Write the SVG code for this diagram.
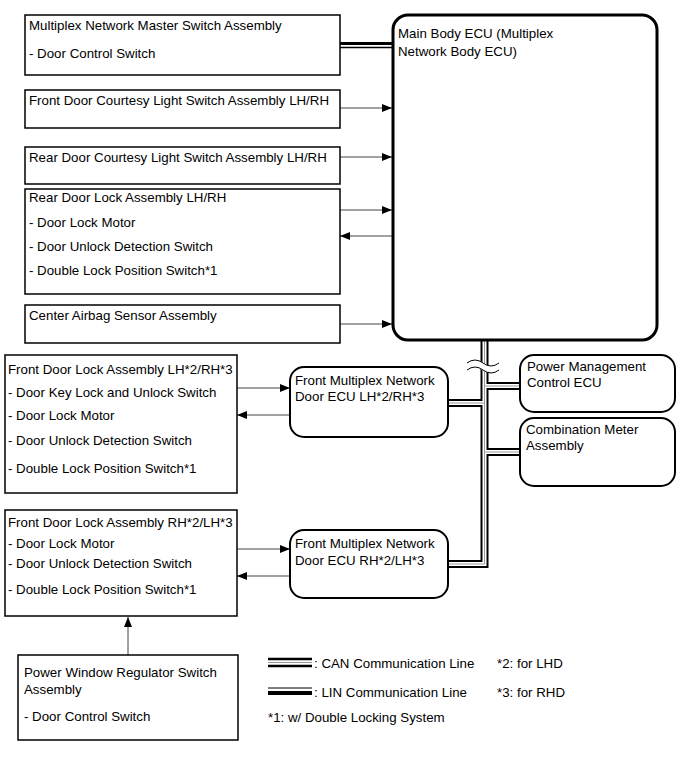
<svg xmlns="http://www.w3.org/2000/svg" xmlns:xlink="http://www.w3.org/1999/xlink" width="691" height="757" viewBox="0 0 691 757">
<style>
text{font-family:"Liberation Sans",Arial,sans-serif;font-size:13.3px;fill:#000}
.box{fill:#fff;stroke:#000;stroke-width:1.5}
.rbox{fill:#fff;stroke:#000;stroke-width:2}
.ecu{fill:#fff;stroke:#000;stroke-width:3}
.arr{fill:none;stroke:#444;stroke-width:1;marker-end:url(#ah)}
.busB{fill:none;stroke:#000;stroke-width:8;stroke-linejoin:miter}
.busW{fill:none;stroke:#fff;stroke-width:4;stroke-linejoin:miter}
.busG{fill:none;stroke:#999;stroke-width:1;stroke-linejoin:miter}
</style>
<defs>
<marker id="ah" viewBox="0 0 10 8" refX="10" refY="4" markerWidth="10" markerHeight="8" markerUnits="userSpaceOnUse" orient="auto">
<path d="M0,0 L10,4 L0,8 Z" fill="#000"/>
</marker>
<g id="bus">
<path d="M484.5,340 V564 H448"/>
<path d="M484.5,386 H520"/>
<path d="M448,403 H484.5"/>
<path d="M484.5,452 H520"/>
</g>
</defs>
<g id="connectors">
<use xlink:href="#bus" class="busB"/>
<use xlink:href="#bus" class="busW"/>
<use xlink:href="#bus" class="busG"/>
<path d="M467,366.5 q8,-6 16,0 t16,0" fill="none" stroke="#fff" stroke-width="7"/>
<path d="M467,363 q8,-6 16,0 t16,0" fill="none" stroke="#000" stroke-width="1"/>
<path d="M467,370 q8,-6 16,0 t16,0" fill="none" stroke="#000" stroke-width="1"/>
<line x1="340" y1="43.5" x2="393" y2="43.5" stroke="#000" stroke-width="3"/>
<line x1="340" y1="47.5" x2="393" y2="47.5" stroke="#000" stroke-width="1.5"/>
<line class="arr" x1="340" y1="108" x2="392" y2="108"/>
<line class="arr" x1="340" y1="157" x2="392" y2="157"/>
<line class="arr" x1="340" y1="210" x2="392" y2="210"/>
<line class="arr" x1="392" y1="236" x2="340" y2="236"/>
<line class="arr" x1="340" y1="324" x2="392" y2="324"/>
<line class="arr" x1="237" y1="388" x2="290" y2="388"/>
<line class="arr" x1="290" y1="415" x2="237" y2="415"/>
<line class="arr" x1="237" y1="549" x2="290" y2="549"/>
<line class="arr" x1="290" y1="576" x2="237" y2="576"/>
<line class="arr" x1="128" y1="655" x2="128" y2="617"/>
</g>
<g id="master-switch">
<rect class="box" x="25" y="15" width="315" height="60"/>
<text x="29" y="30">Multiplex Network Master Switch Assembly</text>
<text x="29" y="58">- Door Control Switch</text>
</g>
<g id="front-courtesy">
<rect class="box" x="25" y="90" width="315" height="38"/>
<text x="29" y="105">Front Door Courtesy Light Switch Assembly LH/RH</text>
</g>
<g id="rear-courtesy">
<rect class="box" x="25" y="147" width="315" height="37"/>
<text x="29" y="162">Rear Door Courtesy Light Switch Assembly LH/RH</text>
</g>
<g id="rear-lock">
<rect class="box" x="25" y="189" width="315" height="105"/>
<text x="29" y="202">Rear Door Lock Assembly LH/RH</text>
<text x="29" y="227">- Door Lock Motor</text>
<text x="29" y="251">- Door Unlock Detection Switch</text>
<text x="29" y="275">- Double Lock Position Switch*1</text>
</g>
<g id="airbag">
<rect class="box" x="25" y="305" width="315" height="38"/>
<text x="29" y="320">Center Airbag Sensor Assembly</text>
</g>
<g id="main-ecu">
<rect class="ecu" x="393" y="15" width="264" height="325" rx="15"/>
<text x="398" y="38">Main Body ECU (Multiplex</text>
<text x="398" y="56">Network Body ECU)</text>
</g>
<g id="front-lock-lh">
<rect class="box" x="5" y="355" width="232" height="138"/>
<text x="8" y="374">Front Door Lock Assembly LH*2/RH*3</text>
<text x="8" y="397">- Door Key Lock and Unlock Switch</text>
<text x="8" y="420">- Door Lock Motor</text>
<text x="8" y="445">- Door Unlock Detection Switch</text>
<text x="8" y="473">- Double Lock Position Switch*1</text>
</g>
<g id="door-ecu-lh">
<rect class="rbox" x="290" y="367" width="158" height="70" rx="14"/>
<text x="295" y="385">Front Multiplex Network</text>
<text x="295" y="401">Door ECU LH*2/RH*3</text>
</g>
<g id="power-mgmt">
<rect class="rbox" x="520" y="355" width="155" height="57" rx="14"/>
<text x="527" y="371">Power Management</text>
<text x="527" y="387">Control ECU</text>
</g>
<g id="combination-meter">
<rect class="rbox" x="520" y="418" width="155" height="68" rx="14"/>
<text x="526" y="434">Combination Meter</text>
<text x="526" y="450">Assembly</text>
</g>
<g id="front-lock-rh">
<rect class="box" x="5" y="510" width="232" height="106"/>
<text x="8" y="527">Front Door Lock Assembly RH*2/LH*3</text>
<text x="8" y="548">- Door Lock Motor</text>
<text x="8" y="568">- Door Unlock Detection Switch</text>
<text x="8" y="594">- Double Lock Position Switch*1</text>
</g>
<g id="door-ecu-rh">
<rect class="rbox" x="290" y="530" width="158" height="68" rx="14"/>
<text x="295" y="548">Front Multiplex Network</text>
<text x="295" y="565">Door ECU RH*2/LH*3</text>
</g>
<g id="power-window">
<rect class="box" x="18" y="655" width="220" height="85"/>
<text x="24" y="677">Power Window Regulator Switch</text>
<text x="24" y="694">Assembly</text>
<text x="24" y="721">- Door Control Switch</text>
</g>
<g id="legend">
<line x1="268" y1="659" x2="312" y2="659" stroke="#000" stroke-width="2.5"/>
<line x1="268" y1="662.5" x2="312" y2="662.5" stroke="#999" stroke-width="1"/>
<line x1="268" y1="666" x2="312" y2="666" stroke="#000" stroke-width="2.5"/>
<text x="314" y="668">: CAN Communication Line</text>
<text x="497" y="668">*2: for LHD</text>
<line x1="268" y1="688" x2="312" y2="688" stroke="#000" stroke-width="1.2"/>
<line x1="268" y1="693" x2="312" y2="693" stroke="#000" stroke-width="4"/>
<text x="314" y="697">: LIN Communication Line</text>
<text x="497" y="697">*3: for RHD</text>
<text x="268" y="722">*1: w/ Double Locking System</text>
</g>
</svg>
